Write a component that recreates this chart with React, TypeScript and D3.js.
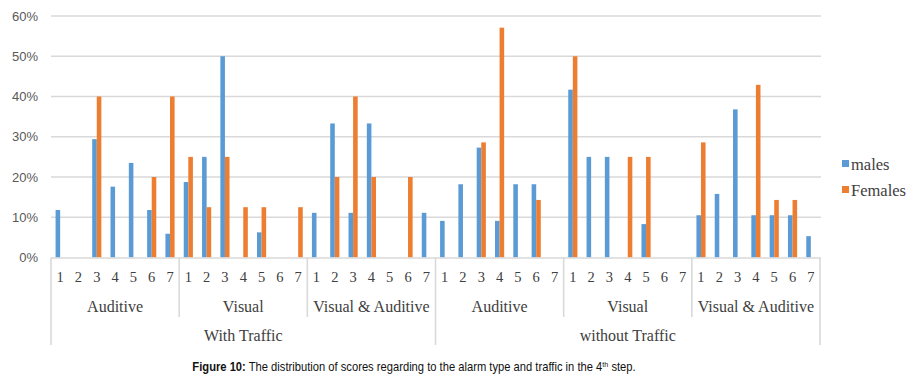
import React, { useRef, useEffect } from 'react';
import * as d3 from 'd3';

const trafficGroups = ['With Traffic', 'without Traffic'];
const alarmTypes = ['Auditive', 'Visual', 'Visual & Auditive'];
const scores = ['1', '2', '3', '4', '5', '6', '7'];
const seriesNames = ['males', 'Females'];

// per traffic group: Auditive 1-7, Visual 1-7, Visual & Auditive 1-7 (in %)
const malesWithTraffic = [
  11.8, 0, 29.4, 17.6, 23.5, 11.8, 5.9,
  18.75, 25, 50, 0, 6.25, 0, 0,
  11.1, 33.3, 11.1, 33.3, 0, 0, 11.1,
];
const femalesWithTraffic = [
  0, 0, 40, 0, 0, 20, 40,
  25, 12.5, 25, 12.5, 12.5, 0, 12.5,
  0, 20, 40, 20, 0, 20, 0,
];
const malesWithoutTraffic = [
  9.1, 18.2, 27.3, 9.1, 18.2, 18.2, 0,
  41.7, 25, 25, 0, 8.3, 0, 0,
  10.5, 15.8, 36.8, 10.5, 10.5, 10.5, 5.3,
];
const femalesWithoutTraffic = [
  0, 0, 28.6, 57.1, 0, 14.3, 0,
  50, 0, 0, 25, 25, 0, 0,
  28.6, 0, 0, 42.9, 14.3, 14.3, 0,
];
const yTicks = [0, 10, 20, 30, 40, 50, 60];

const colors = ['#5B9BD5', '#ED7D31'];

const Chart = ({ width, height }) => {
  const ref = useRef(null);

  useEffect(() => {
    const left = 51, right = 820, top = 16, bottom = 257.5;
    d3.select(ref.current).selectAll('*').remove();

    const svg = d3.select(ref.current)
      .append('svg')
      .attr('width', width)
      .attr('height', height)
      .style('position', 'absolute')
      .style('left', 0)
      .style('top', 0)
      .style('background', '#fff');

    const rows = [];
    trafficGroups.forEach((t, ti) => {
      const m = ti === 0 ? malesWithTraffic : malesWithoutTraffic;
      const f = ti === 0 ? femalesWithTraffic : femalesWithoutTraffic;
      alarmTypes.forEach((a, ai) => {
        scores.forEach((s, si) => {
          const i = ai * scores.length + si;
          rows.push({ key: `${t}|${a}|${s}`, traffic: t, alarm: a, score: s, values: [m[i], f[i]] });
        });
      });
    });

    const x = d3.scaleBand().domain(rows.map(d => d.key)).range([left, right]).padding(0);
    const x1 = d3.scaleBand().domain(seriesNames).range([0, x.bandwidth()]).paddingInner(0).paddingOuter(1);
    const y = d3.scaleLinear().domain([0, 60]).range([bottom, top]);

    const grey = '#d9d9d9';
    const text = '#404040';

    // gridlines
    svg.append('g')
      .selectAll('line')
      .data(yTicks.filter(v => v > 0))
      .enter()
      .append('line')
      .attr('x1', left)
      .attr('x2', right + 1)
      .attr('y1', d => y(d))
      .attr('y2', d => y(d))
      .attr('stroke', grey)
      .attr('stroke-width', 1.3);

    // y labels
    svg.append('g')
      .selectAll('text')
      .data(yTicks)
      .enter()
      .append('text')
      .attr('x', 38)
      .attr('y', d => y(d))
      .attr('dy', '0.35em')
      .attr('text-anchor', 'end')
      .attr('font-family', 'Liberation Sans, Arial, sans-serif')
      .attr('font-size', 13)
      .attr('fill', '#595959')
      .text(d => `${d}%`);

    // bars
    const cat = svg.append('g')
      .selectAll('g')
      .data(rows)
      .enter()
      .append('g')
      .attr('transform', d => `translate(${x(d.key)},0)`);

    cat.selectAll('rect')
      .data(d => d.values.map((v, i) => ({ v, s: seriesNames[i], i })))
      .enter()
      .filter(d => d.v > 0)
      .append('rect')
      .attr('x', d => x1(d.s))
      .attr('width', x1.bandwidth())
      .attr('y', d => y(d.v))
      .attr('height', d => y(0) - y(d.v))
      .attr('fill', d => colors[d.i]);

    // x axis line
    svg.append('line')
      .attr('x1', left).attr('x2', right + 1)
      .attr('y1', bottom + 0.5).attr('y2', bottom + 0.5)
      .attr('stroke', grey).attr('stroke-width', 1.6);

    const serif = 'Liberation Serif, Times New Roman, serif';

    // score labels
    svg.append('g')
      .selectAll('text')
      .data(rows)
      .enter()
      .append('text')
      .attr('x', d => x(d.key) + x.bandwidth() / 2)
      .attr('y', 282)
      .attr('text-anchor', 'middle')
      .attr('font-family', serif)
      .attr('font-size', 14.5)
      .attr('fill', text)
      .text(d => d.score);

    // alarm-type groups
    const groupW = x.bandwidth() * scores.length;
    const alarmGroups = [];
    trafficGroups.forEach((t, ti) => alarmTypes.forEach((a, ai) => alarmGroups.push({
      label: a, x0: x(`${t}|${a}|1`), first: ai === 0,
    })));

    svg.append('g')
      .selectAll('text')
      .data(alarmGroups)
      .enter()
      .append('text')
      .attr('x', d => d.x0 + groupW / 2)
      .attr('y', 312)
      .attr('text-anchor', 'middle')
      .attr('font-family', serif)
      .attr('font-size', 16)
      .attr('fill', text)
      .text(d => d.label);

    // separators
    svg.append('g')
      .selectAll('line')
      .data(alarmGroups.filter(d => !d.first))
      .enter()
      .append('line')
      .attr('x1', d => d.x0).attr('x2', d => d.x0)
      .attr('y1', bottom).attr('y2', 317)
      .attr('stroke', grey).attr('stroke-width', 1.6);

    const trafficW = groupW * alarmTypes.length;
    const outer = trafficGroups.map(t => x(`${t}|${alarmTypes[0]}|1`)).concat([right]);
    svg.append('g')
      .selectAll('line')
      .data(outer)
      .enter()
      .append('line')
      .attr('x1', d => d).attr('x2', d => d)
      .attr('y1', bottom).attr('y2', 345)
      .attr('stroke', grey).attr('stroke-width', 1.6);

    svg.append('g')
      .selectAll('text')
      .data(trafficGroups)
      .enter()
      .append('text')
      .attr('x', t => x(`${t}|${alarmTypes[0]}|1`) + trafficW / 2)
      .attr('y', 341)
      .attr('text-anchor', 'middle')
      .attr('font-family', serif)
      .attr('font-size', 16)
      .attr('fill', text)
      .text(t => t);

    // legend
    const legend = svg.append('g')
      .selectAll('g')
      .data(seriesNames)
      .enter()
      .append('g')
      .attr('transform', (d, i) => `translate(842,${160 + i * 26})`);
    legend.append('rect')
      .attr('width', 7).attr('height', 7)
      .attr('fill', (d, i) => colors[i]);
    legend.append('text')
      .attr('x', 9)
      .attr('y', 4)
      .attr('dy', '0.35em')
      .attr('font-family', serif)
      .attr('font-size', 16.5)
      .attr('fill', text)
      .text(d => d);

    // caption (condensed to match the narrow face of the original)
    const cap = svg.append('text')
      .attr('transform', 'translate(414,371) scale(0.895,1)')
      .attr('text-anchor', 'middle')
      .attr('font-family', 'Liberation Sans Narrow, Arial Narrow, Liberation Sans, Arial, sans-serif')
      .attr('font-size', 12.5)
      .attr('fill', '#111');
    cap.append('tspan').attr('font-weight', 'bold').text('Figure 10:');
    cap.append('tspan').text(' The distribution of scores regarding to the alarm type and traffic in the 4');
    cap.append('tspan').attr('font-size', 8).attr('dy', -4).text('th');
    cap.append('tspan').attr('dy', 4).text(' step.');
  }, [width, height]);

  return <div ref={ref}></div>;
};

export default function App() {
  return <Chart width={909} height={386} />;
}
